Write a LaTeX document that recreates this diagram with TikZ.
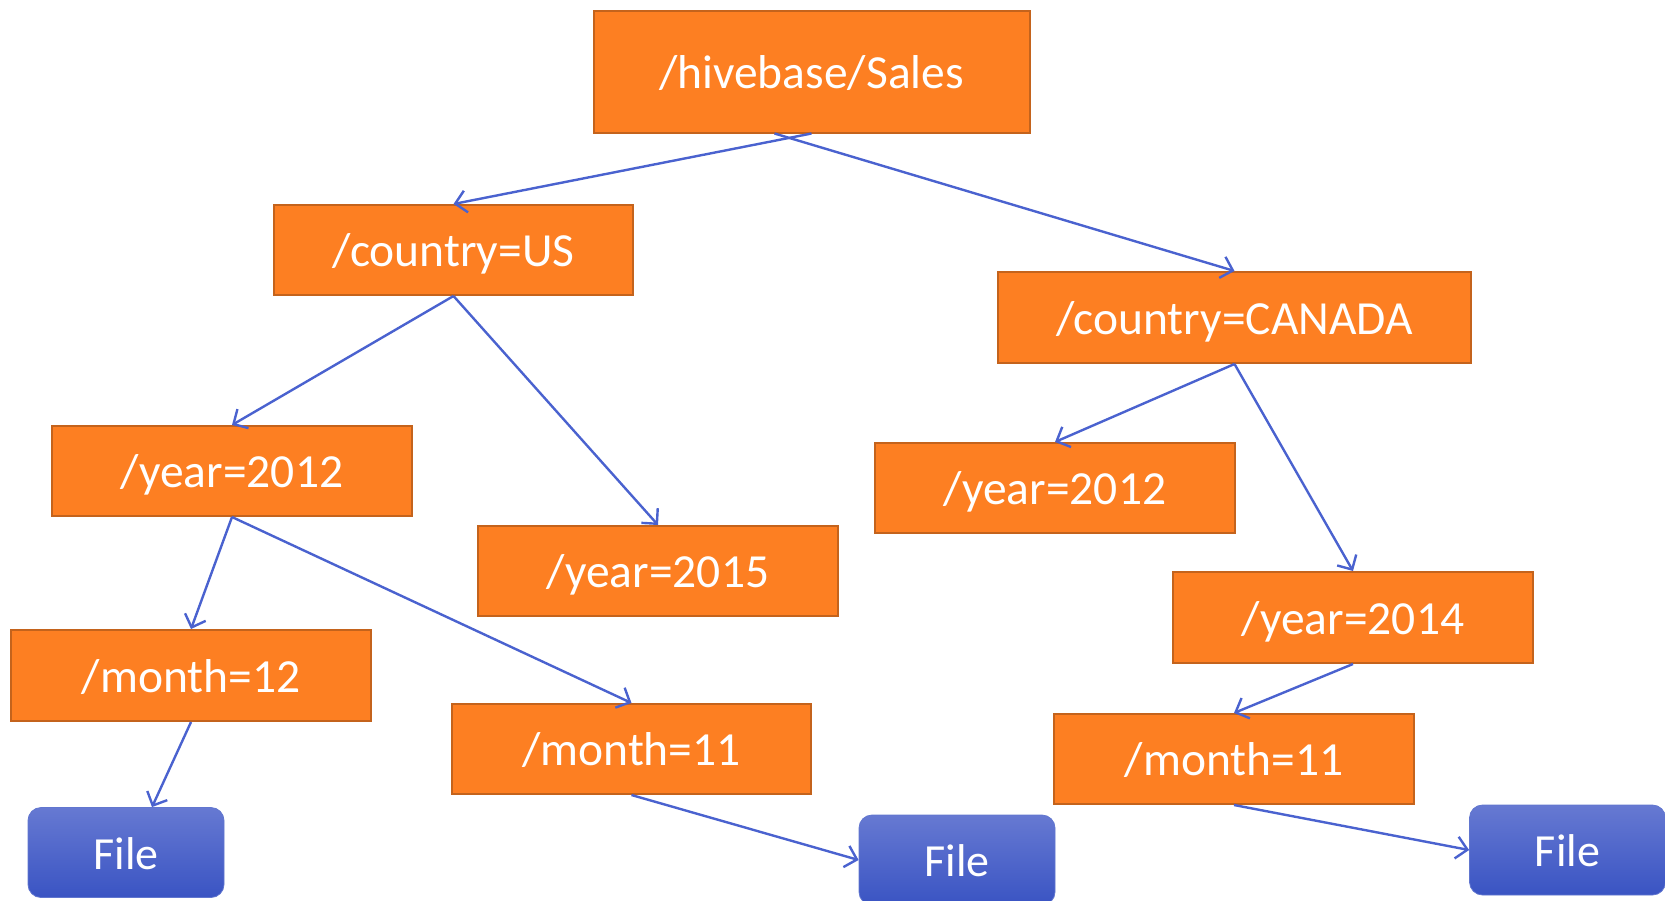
\documentclass[tikz,border=0pt]{standalone}
\usepackage{fontspec}
\setmainfont{Carlito}
\usetikzlibrary{arrows.meta,calc}
\definecolor{dirfill}{HTML}{FD7F22}
\definecolor{dirline}{HTML}{C4631C}
\definecolor{linkblue}{HTML}{4A62CF}
\definecolor{filetop}{HTML}{6679D2}
\definecolor{filebot}{HTML}{3A54C3}
\tikzset{
  dirbox/.style={rectangle, fill=dirfill, draw=dirline, line width=2pt,
    text=white, font=\fontsize{47.5}{50}\selectfont, inner sep=0pt,
    text height=33pt, text depth=0pt},
  filebox/.style={rectangle, rounded corners=13pt, top color=filetop, bottom color=filebot,
    draw=filebot!80!white, line width=0.8pt, text=white,
    font=\fontsize{46}{50}\selectfont, inner sep=0pt,
    text height=33pt, text depth=0pt,
    minimum width=196pt, minimum height=90pt},
  link/.style={draw=linkblue, line width=2.4pt,
    -{Straight Barb[length=11pt,width=22pt,line width=2.4pt]}}
}
\begin{document}
\begin{tikzpicture}[x=1pt,y=-1pt]
\useasboundingbox (0,0) rectangle (1665,900);
\begin{scope}
\clip (0,0) rectangle (1665,900);
% directory boxes
\node[dirbox, minimum width=436pt, minimum height=122pt] (hive) at (811.5,71.5) {/hivebase/Sales};
\node[dirbox, minimum width=359pt, minimum height=90pt] (us) at (453.5,250) {/country=US};
\node[dirbox, minimum width=473pt, minimum height=91pt] (ca) at (1234.5,317.5) {/country=CANADA};
\node[dirbox, minimum width=360pt, minimum height=90pt] (y12) at (232,471) {/year=2012};
\node[dirbox, minimum width=360pt, minimum height=90pt] (y15) at (658,571) {/year=2015};
\node[dirbox, minimum width=360pt, minimum height=90pt] (y12r) at (1055,488) {/year=2012};
\node[dirbox, minimum width=360pt, minimum height=91pt] (y14) at (1353,617.5) {/year=2014};
\node[dirbox, minimum width=360pt, minimum height=91pt] (m12) at (191,675.5) {/month=12};
\node[dirbox, minimum width=359pt, minimum height=90pt] (m11) at (631.5,749) {/month=11};
\node[dirbox, minimum width=360pt, minimum height=90pt] (m11r) at (1234,759) {/month=11};
% file boxes
\node[filebox] (f1) at (126,852.5) {File};
\node[filebox] (f2) at (957,860) {File};
\node[filebox] (f3) at (1567.5,850) {File};
% connectors
\draw[link] (hive.south) -- (us.north);
\draw[link] ($(hive.south)+(-37,0)$) -- (ca.north);
\draw[link] (us.south) -- (y12.north);
\draw[link] (us.south) -- (y15.north);
\draw[link] (ca.south) -- (y12r.north);
\draw[link] (ca.south) -- (y14.north);
\draw[link] (y12.south) -- (m12.north);
\draw[link] (y12.south) -- (m11.north);
\draw[link] (m12.south) -- ($(f1.north)+(26,0)$);
\draw[link] (m11.south) -- (f2.west);
\draw[link] (y14.south) -- (m11r.north);
\draw[link] (m11r.south) -- (f3.west);
\end{scope}
\end{tikzpicture}
\end{document}
